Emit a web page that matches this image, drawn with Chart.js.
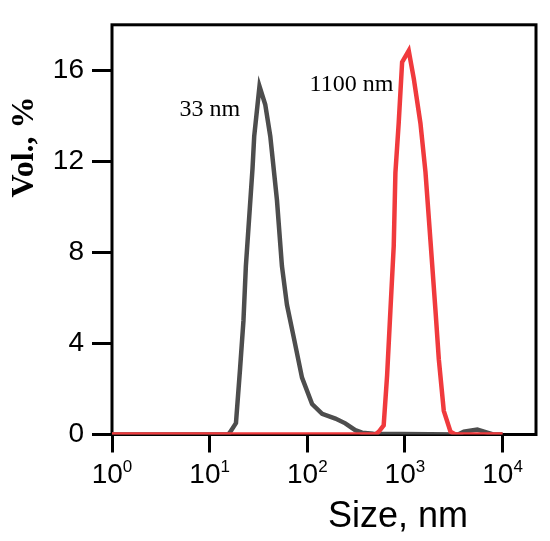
<!DOCTYPE html>
<html>
<head>
<meta charset="utf-8">
<script src="https://cdn.jsdelivr.net/npm/chart.js@4.4.1/dist/chart.umd.min.js"></script>
<style>
  html, body { margin: 0; padding: 0; background: #fff; }
  #wrap { width: 550px; height: 541px; }
</style>
</head>
<body>
<div id="wrap"><canvas id="sizeChart" width="550" height="541"></canvas></div>
<script>
// size distribution
const sizeGray = [1, 15.5, 16.2, 18.6, 20.5, 22.2, 23.5, 27.5, 28.6, 32.4, 37.1, 41.8, 48.9, 55.0, 61.9, 72.4, 88.3, 112, 142, 194, 245, 310, 364, 475, 3500, 4010, 5510, 6970, 8000, 10000];
const volGray  = [0, 0, 0.1, 0.5, 2.9, 5.0, 7.4, 11.7, 13.1, 15.3, 14.5, 13.1, 10.3, 7.4, 5.7, 4.3, 2.5, 1.34, 0.91, 0.70, 0.49, 0.19, 0.08, 0.03, 0, 0.12, 0.22, 0.08, 0, 0];

const sizeRed = [1, 500, 539, 606, 657, 710, 768, 799, 864, 936, 1094, 1231, 1442, 1623, 1827, 2056, 2223, 2500, 2930, 3300, 10000];
const volRed  = [0, 0, 0.12, 0.40, 2.6, 5.44, 8.28, 11.5, 13.7, 16.36, 16.86, 15.65, 13.67, 11.54, 8.5, 5.44, 3.31, 1.04, 0.12, 0, 0];

const xTicks = [1, 10, 100, 1000, 10000];
const xTickExponents = ['0', '1', '2', '3', '4'];
const yTicks = [0, 4, 8, 12, 16];

const peakLabels = [
    { text: '33 nm', x: 20.6, y: 14.0 },
    { text: '1100 nm', x: 762, y: 15.1 }
];

function toPoints(xs, ys) {
    return xs.map((x, i) => ({ x: x, y: ys[i] }));
}

// black box round the plot area
const framePlugin = {
    id: 'frame',
    beforeDatasetsDraw(chart) {
        const { ctx, chartArea: a } = chart;
        ctx.save();
        ctx.lineWidth = 3;
        ctx.strokeStyle = '#000';
        ctx.strokeRect(a.left, a.top, a.right - a.left, a.bottom - a.top);
        ctx.restore();
    }
};

const sansFont = '"Liberation Sans", Arial, sans-serif';
const serifFont = '"Liberation Serif", "Times New Roman", serif';

// axis titles, 10^n tick labels and peak labels
const textPlugin = {
    id: 'texts',
    afterDraw(chart) {
        const ctx = chart.ctx;
        const xs = chart.scales.x, ys = chart.scales.y;
        ctx.save();
        ctx.fillStyle = '#000';
        ctx.textBaseline = 'alphabetic';

        // x tick labels with raised exponent
        ctx.textAlign = 'left';
        xTicks.forEach(function (v, i) {
            const px = xs.getPixelForValue(v);
            ctx.font = '28px ' + sansFont;
            const wBase = ctx.measureText('10').width;
            ctx.font = '17px ' + sansFont;
            const wExp = ctx.measureText(xTickExponents[i]).width;
            const x0 = px - (wBase + wExp) / 2;
            ctx.font = '28px ' + sansFont;
            ctx.fillText('10', x0, 483);
            ctx.font = '17px ' + sansFont;
            ctx.fillText(xTickExponents[i], x0 + wBase, 472);
        });

        ctx.font = '36px ' + sansFont;
        ctx.textAlign = 'center';
        ctx.fillText('Size, nm', 398, 527);

        ctx.save();
        ctx.translate(33, 147);
        ctx.rotate(-Math.PI / 2);
        ctx.font = 'bold 32px ' + serifFont;
        ctx.fillText('Vol., %', 0, 0);
        ctx.restore();

        ctx.font = '24px ' + serifFont;
        ctx.textAlign = 'right';
        peakLabels.forEach(function (p) {
            ctx.fillText(p.text, xs.getPixelForValue(p.x), ys.getPixelForValue(p.y));
        });
        ctx.restore();
    }
};

const tickFont = { family: sansFont, size: 28 };

new Chart(document.getElementById('sizeChart').getContext('2d'), {
    type: 'line',
    data: {
        datasets: [{
            label: '1100 nm',
            data: toPoints(sizeRed, volRed),
            borderColor: '#f03a3d',
            borderWidth: 4.5,
            pointRadius: 0,
            tension: 0,
            fill: false
        }, {
            label: '33 nm',
            data: toPoints(sizeGray, volGray),
            borderColor: '#4d4d4d',
            borderWidth: 4.5,
            pointRadius: 0,
            tension: 0,
            fill: false
        }]
    },
    options: {
        responsive: false,
        animation: false,
        devicePixelRatio: 1,
        layout: { padding: { top: 12, right: 14, left: 0, bottom: 0 } },
        plugins: {
            legend: { display: false },
            tooltip: { enabled: false }
        },
        scales: {
            x: {
                type: 'logarithmic',
                min: 1,
                max: 22000,
                afterBuildTicks: function (scale) {
                    scale.ticks = xTicks.map(v => ({ value: v }));
                },
                afterFit: function (scale) {
                    scale.height = 106.5;
                },
                ticks: {
                    display: false,
                    autoSkip: false,
                    maxRotation: 0
                },
                grid: {
                    drawOnChartArea: false,
                    drawTicks: true,
                    tickLength: 18,
                    tickWidth: 3,
                    tickColor: '#000'
                },
                border: { display: false }
            },
            y: {
                type: 'linear',
                min: 0,
                max: 18,
                afterBuildTicks: function (scale) {
                    scale.ticks = yTicks.map(v => ({ value: v }));
                },
                afterFit: function (scale) {
                    scale.width = 112;
                },
                ticks: {
                    padding: 8,
                    color: '#000',
                    font: tickFont
                },
                grid: {
                    drawOnChartArea: false,
                    drawTicks: true,
                    tickLength: 20,
                    tickWidth: 3,
                    tickColor: '#000'
                },
                border: { display: false }
            }
        }
    },
    plugins: [framePlugin, textPlugin]
});
</script>
</body>
</html>
